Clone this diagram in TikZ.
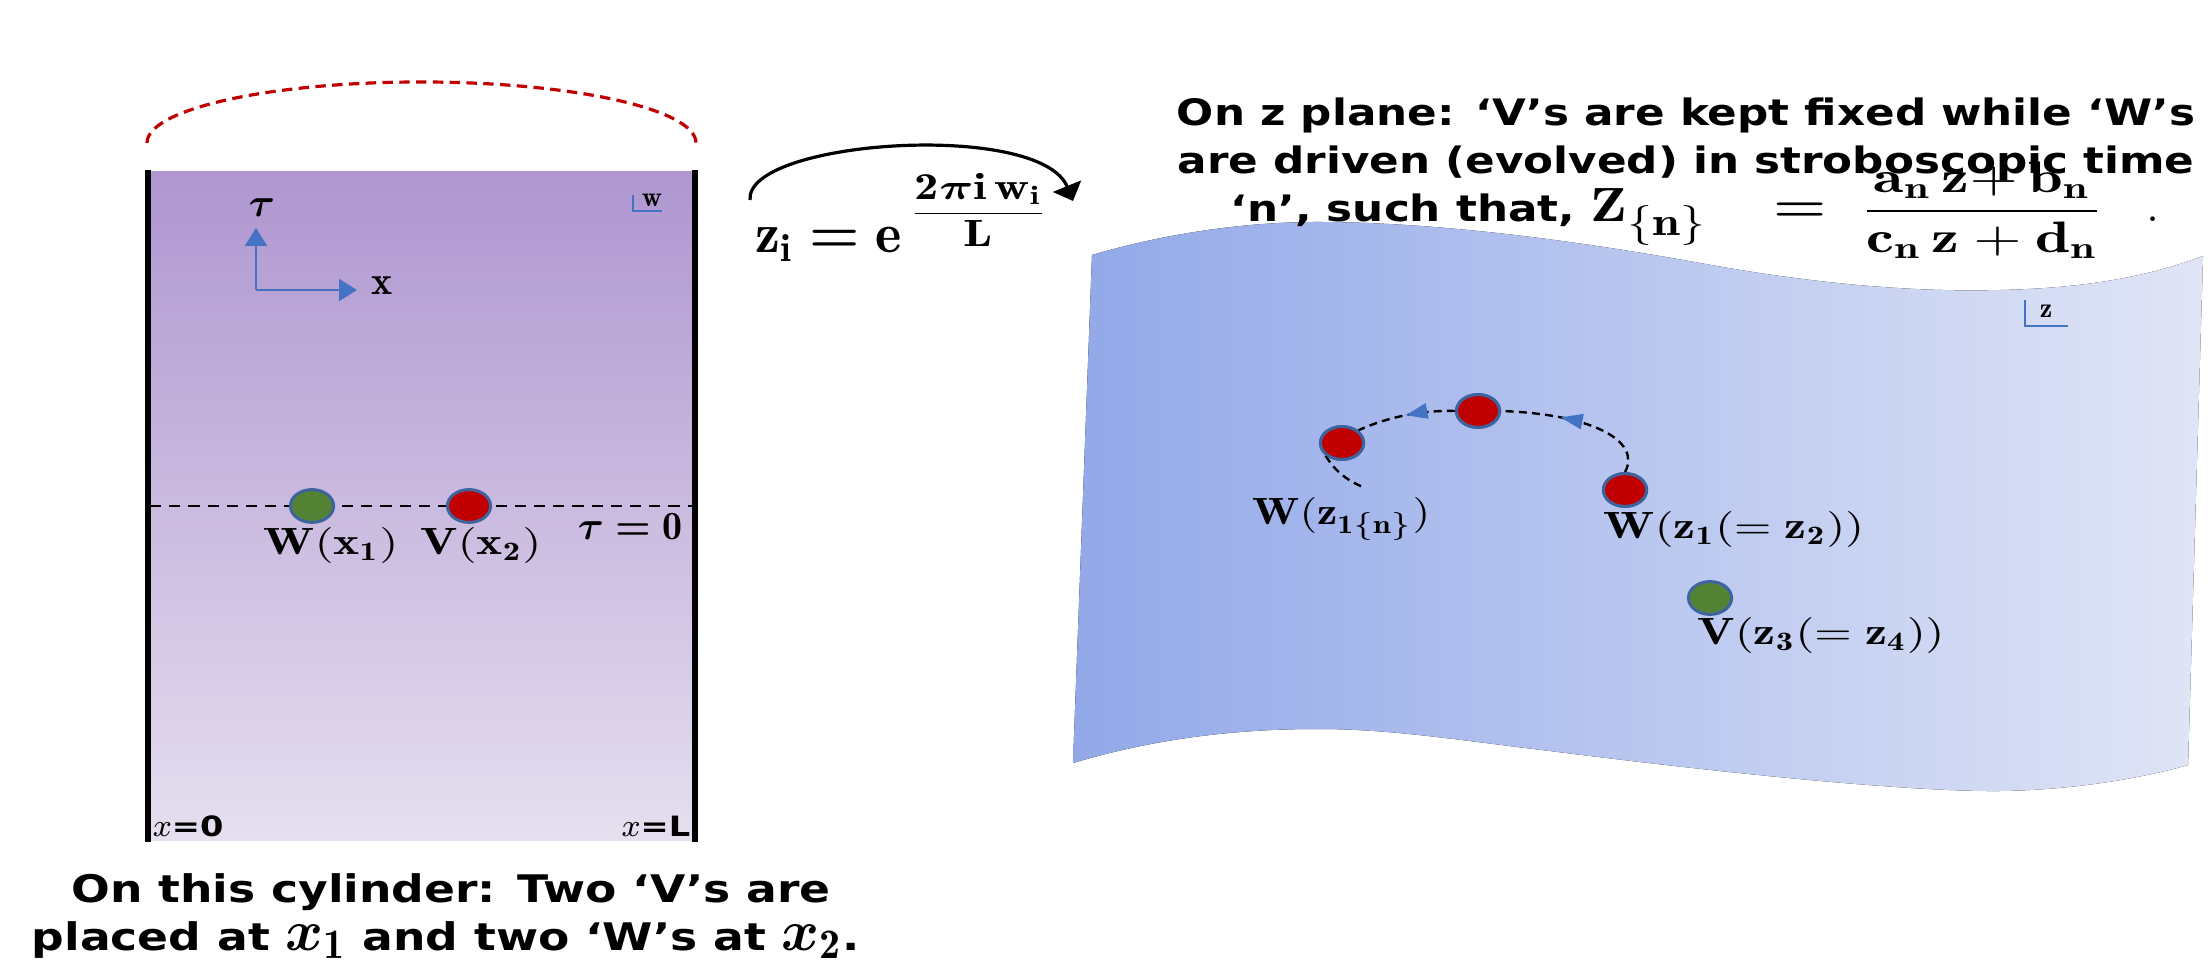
\documentclass[tikz,border=0pt]{standalone}
\usepackage{amsmath}
\usepackage{bm}
\usepackage{graphicx}
\usepackage{fontspec}
\newfontfamily\capfont{DejaVu Sans}[FakeStretch=1.2]
\usetikzlibrary{arrows.meta,decorations.markings,shapes.geometric}
\definecolor{cyltop}{RGB}{175,150,208}
\definecolor{cylbot}{RGB}{229,223,239}
\definecolor{ztL}{RGB}{146,168,232}
\definecolor{ztR}{RGB}{224,229,246}
\definecolor{arcred}{RGB}{192,0,0}
\definecolor{dotred}{RGB}{192,0,0}
\definecolor{dotgreen}{RGB}{84,130,53}
\definecolor{dotedge}{RGB}{61,100,158}
\definecolor{axblue}{RGB}{68,114,196}
\newcommand{\wide}[1]{\scalebox{1.3}[1]{#1}}
\tikzset{
  cylline/.style={line width=1.3pt, draw=black},
  redarc/.style={draw=arcred, line width=0.8pt, dash pattern=on 2.6pt off 1.6pt},
  taudash/.style={draw=black, line width=0.5pt, dash pattern=on 2.8pt off 2pt},
  axisarrow/.style={draw=axblue, line width=0.5pt, -{Triangle[length=4.5pt,width=5.5pt]}},
  cornermark/.style={draw=axblue, line width=0.35pt},
  dotbase/.style={ellipse, draw=dotedge, line width=0.75pt, minimum width=10.8pt, minimum height=8.2pt, inner sep=0pt},
  reddot/.style={dotbase, fill=dotred},
  greendot/.style={dotbase, fill=dotgreen},
  mlabel/.style={font=\fontsize{9.5}{11}\selectfont, inner sep=0pt},
  caption/.style={font=\capfont\bfseries\fontsize{9.5}{11.5}\selectfont, inner sep=0pt},
  title/.style={font=\capfont\bfseries\fontsize{9.1}{11}\selectfont, inner sep=0pt},
  pathdash/.style={draw=black, line width=0.6pt, dash pattern=on 2pt off 1.3pt},
  maparrow/.style={draw=black, line width=0.8pt, -{Triangle[length=4pt,width=7.5pt]}},
  pathtip/.style={postaction={decorate}, decoration={markings, mark=at position #1 with {\arrow[axblue]{Triangle[length=5.5pt,width=3.8pt]}}}}
}
\begin{document}
\begin{tikzpicture}[x=0.25pt,y=-0.25pt]
\useasboundingbox (0,0) rectangle (2211,970);

% ---------- cylinder ----------
\fill[top color=cyltop,bottom color=cylbot] (148,172) rectangle (695,840);
\coordinate (cylLT) at (148,170); \coordinate (cylLB) at (148,842);
\coordinate (cylRT) at (695,170); \coordinate (cylRB) at (695,842);
\draw[cylline] (cylLT) -- (cylLB);
\draw[cylline] (cylRT) -- (cylRB);

\coordinate (arcL) at (147,143); \coordinate (arcTop) at (421,82); \coordinate (arcR) at (696,143);
\draw[redarc] (arcL) .. controls (147,109) and (270,82) .. (arcTop) .. controls (572,82) and (696,109) .. (arcR);

% axes
\coordinate (O) at (256,290); \coordinate (tauTip) at (256,228); \coordinate (xTip) at (357,290);
\draw[axisarrow] (O) -- (tauTip);
\draw[axisarrow] (O) -- (xTip);
\node[font=\fontsize{10}{12}\selectfont, inner sep=0pt] (taulbl) at (262,208) {$\bm{\tau}$};
\node[font=\fontsize{10}{12}\selectfont, inner sep=0pt] (xlbl) at (382,286) {$\mathbf{x}$};

% w corner
\coordinate (wc1) at (633,195); \coordinate (wc2) at (633,211); \coordinate (wc3) at (662,211);
\draw[cornermark] (wc1) -- (wc2) -- (wc3);
\node[font=\fontsize{7}{8}\selectfont, inner sep=0pt] (wlbl) at (652,200) {$\mathbf{w}$};

% tau = 0 line and dots
\coordinate (t0L) at (150,506); \coordinate (t0R) at (693,506);
\draw[taudash] (t0L) -- (t0R);
\node[greendot] (Wx1) at (312,506) {};
\node[reddot] (Vx2) at (469,506) {};
\node[mlabel, anchor=base] (Wx1lbl) at (331,555) {\wide{$\mathbf{W(x_1)}$}};
\node[mlabel, anchor=base] (Vx2lbl) at (481,555) {\wide{$\mathbf{V(x_2)}$}};
\node[font=\fontsize{10}{12}\selectfont, inner sep=0pt, anchor=base] (taulab) at (630,540) {$\bm{\tau}\bm{=}\mathbf{0}$};

\node[anchor=base west, inner sep=0pt] (x0) at (152,836) {\fontsize{8}{9}\selectfont$x$\capfont\bfseries\fontsize{7}{8}\selectfont=0};
\node[anchor=base east, inner sep=0pt] (xL) at (691,836) {\fontsize{8}{9}\selectfont$x$\capfont\bfseries\fontsize{7}{8}\selectfont=L};

% caption
\node[caption, anchor=base] (cap1) at (451,902) {On this cylinder: Two ‘V’s are};
\node[caption, anchor=base] (cap2) at (446,950) {placed at {\fontsize{15}{17}\selectfont$\bm{x}_{\mathbf{1}}$} and two ‘W’s at {\fontsize{15}{17}\selectfont$\bm{x}_{\mathbf{2}}$}.};

% ---------- map arrow and formula ----------
\coordinate (mapA) at (750,200); \coordinate (mapB) at (1073,201);
\draw[maparrow] (mapA) .. controls (745,140) and (1040,120) .. (mapB);
\node[anchor=base west, inner sep=0pt, font=\fontsize{14}{16}\selectfont] (zmap) at (755,253)
  {$\mathbf{z_i}\bm{=}\mathbf{e}^{\,\scalebox{1.28}[1]{\fontsize{9.5}{11}\selectfont$\dfrac{\mathbf{2}\bm{\pi}\mathbf{i}\,\mathbf{w_i}}{\mathbf{L}}$}}$};

% ---------- z plane ----------
\fill[left color=ztL, right color=ztR]
  (1092,255) .. controls (1160,235) and (1240,222) .. (1317,222)
  .. controls (1450,222) and (1600,245) .. (1700,263)
  .. controls (1830,287) and (1930,292) .. (2000,290)
  .. controls (2100,288) and (2160,272) .. (2203,256)
  -- (2188,765)
  .. controls (2150,776) and (2080,790) .. (2000,791)
  .. controls (1900,792) and (1700,770) .. (1550,751)
  .. controls (1450,739) and (1390,729) .. (1317,729)
  .. controls (1230,729) and (1150,740) .. (1073,763) -- cycle;

\coordinate (zc1) at (2025,300); \coordinate (zc2) at (2025,326); \coordinate (zc3) at (2068,326);
\draw[cornermark] (zc1) -- (zc2) -- (zc3);
\node[font=\fontsize{7}{8}\selectfont, inner sep=0pt] (zlbl) at (2046,311) {$\mathbf{z}$};

\node[reddot] (W1) at (1342,443) {};
\node[reddot] (W2) at (1478,411) {};
\node[reddot] (W3) at (1625,490) {};
\node[greendot] (V1) at (1710,598) {};
\coordinate (tail) at (1363,487);

\draw[pathdash, pathtip=0.62] (W3.north) .. controls (1642,440) and (1590,414) .. (W2.east);
\draw[pathdash, pathtip=0.5] (W2.west) .. controls (1420,410) and (1385,418) .. (W1.north east);
\draw[pathdash] (W1.south west) .. controls (1335,472) and (1350,482) .. (tail);
\node[reddot] at (W1) {};
\node[reddot] at (W2) {};
\node[reddot] at (W3) {};

\node[mlabel, anchor=base west] (W1lbl) at (1252,525) {\scalebox{1.2}[1]{$\mathbf{W(z_{1\{n\}})}$}};
\node[mlabel, anchor=base west] (W3lbl) at (1603,539) {\wide{$\mathbf{W(z_1(=z_2))}$}};
\node[mlabel, anchor=base west] (V1lbl) at (1697,645) {\wide{$\mathbf{V(z_3(=z_4))}$}};

% ---------- title on the right ----------
\node[title, anchor=base] (t1) at (1686,126) {On z plane: ‘V’s are kept fixed while ‘W’s};
\node[title, anchor=base] (t2) at (1686,174) {are driven (evolved) in stroboscopic time};
\node[title, anchor=base west] (t3) at (1230,222) {‘n’, such that,};
\node[anchor=base west, inner sep=0pt, font=\fontsize{12}{14}\selectfont] (Zn) at (1590,222)
  {\scalebox{1.25}[1]{$\mathbf{Z}_{\mbox{\fontsize{10}{12}\selectfont$\{\mathbf{n}\}$}}$}};
\node[anchor=base west, inner sep=0pt, font=\fontsize{12}{14}\selectfont] (eqs) at (1773,222)
  {\scalebox{1.27}[1]{$\bm{=}$}};
\node[anchor=base, inner sep=0pt, font=\fontsize{11}{13}\selectfont] (frac) at (1982,222)
  {\scalebox{1.42}[1]{$\dfrac{\mathbf{a_n}\,\mathbf{z}{+}\,\mathbf{b_n}}{\mathbf{c_n}\,\mathbf{z}+\mathbf{d_n}}$}};
\node[anchor=base, inner sep=0pt, font=\fontsize{12}{14}\selectfont] (eqdot) at (2153,222) {$.$};
\end{tikzpicture}
\end{document}
